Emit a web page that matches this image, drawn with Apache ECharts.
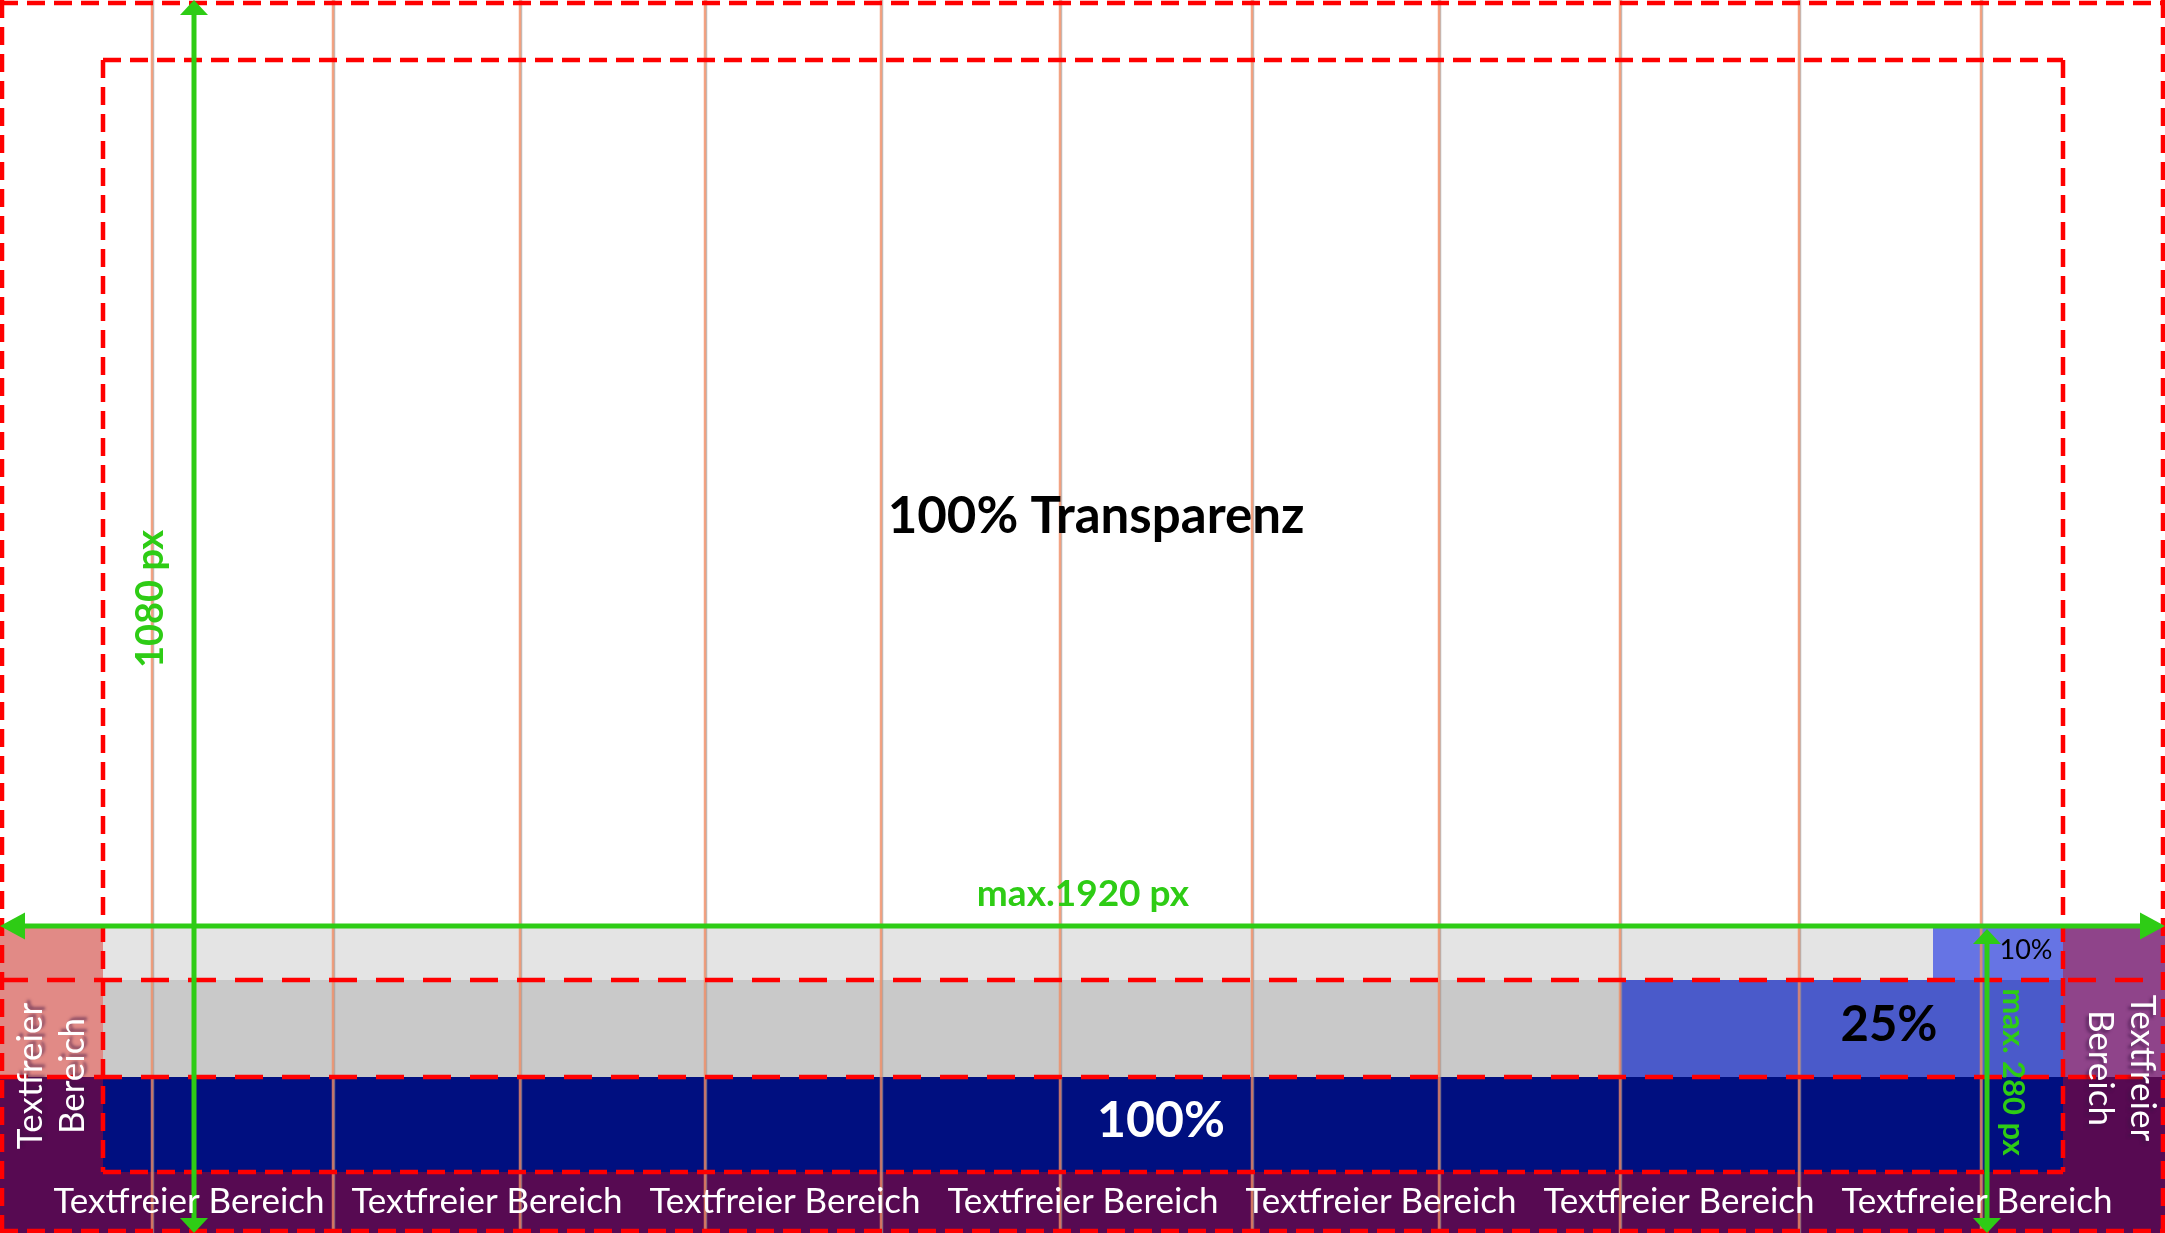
<!DOCTYPE html>
<html>
<head>
<meta charset="utf-8">
<script src="https://cdn.jsdelivr.net/npm/echarts@6/dist/echarts.min.js"></script>
<style>html,body{margin:0;padding:0;background:#fff}#c{width:2165px;height:1233px}</style>
</head>
<body>
<div id="c"></div>
<script>
// ===== Data (layout values in reference-pixel units) =====
const frameW = 2165;
const frameH = 1233;

// vertical column guide lines
const guideX = [152, 333, 520, 705, 881, 1060, 1252, 1439, 1620, 1799, 1981];

// filled regions: [x0, y0, x1, y1]
const regionBoxes = [
  [0, 1172, 2165, 1233],   // bottom text-free strip
  [0, 1077, 103, 1172],    // left lower
  [2063, 1077, 2165, 1172],// right lower
  [0, 927, 103, 1077],     // left upper
  [2063, 927, 2165, 1077], // right upper
  [103, 927, 1933, 980],   // 10% band, gray part
  [1933, 927, 2063, 980],  // 10% band, blue part
  [103, 980, 1620, 1077],  // 25% band, gray part
  [1620, 980, 2063, 1077], // 25% band, blue part
  [103, 1077, 2063, 1172]  // 100% band
];
const regionKinds = ['purpleDark', 'purpleDark', 'purpleDark', 'pink', 'purpleMid',
  'gray1', 'blue10', 'gray2', 'blue25', 'navy'];

// red dashed frame lines: [x0, y0, x1, y1]
const dashLines = [
  [0, 3, 2165, 3], [0, 1231, 2165, 1231], [2, 0, 2, 1233], [2163, 0, 2163, 1233],
  [103, 60, 2063, 60], [103, 60, 103, 1172], [2063, 60, 2063, 1172], [103, 1172, 2063, 1172],
  [0, 980, 2165, 980], [0, 1077, 2165, 1077]
];
const dashKinds = ['fine', 'fine', 'fine', 'fine', 'fine', 'fine', 'fine', 'fine', 'coarse', 'coarse'];

// green dimension arrows: [x0, y0, x1, y1]
const dimArrows = [
  [0, 926, 2165, 926],
  [194, 0, 194, 1233],
  [1987, 929, 1987, 1233]
];
const dimArrowKinds = ['long', 'short', 'short'];

// text labels
const labelTexts = ['100% Transparenz', 'max.1920 px', '1080 px', 'max. 280 px',
  '10%', '25%', '100%', 'Textfreier\nBereich', 'Textfreier\nBereich'];
const labelAnchors = [
  [1096, 517], [1083, 894], [151, 599], [2013, 1072],
  [2026, 950], [1889, 1025], [1161, 1121], [52, 1076], [2121, 1068]
];
const labelKinds = ['title', 'dimH', 'dimV1080', 'dimV280', 'small', 'mid', 'big', 'sideL', 'sideR'];

// bottom "text-free" strip categories
const bottomCategories = ['Textfreier Bereich', 'Textfreier Bereich', 'Textfreier Bereich',
  'Textfreier Bereich', 'Textfreier Bereich', 'Textfreier Bereich', 'Textfreier Bereich'];

// ===== Styles =====
const palette = {
  purpleDark: '#570a52', purpleMid: '#8f448a', pink: '#e18a86',
  gray1: '#e4e4e4', gray2: '#c9c9c9', blue10: '#6674e4', blue25: '#4a5aca', navy: '#000f80'
};
const dashStyles = { fine: [18, 9], coarse: [28, 19] };
const arrowHeads = { long: [25, 27], short: [15, 28] };
const GREEN = '#2ecc15';
const FONT = 'Lato, "Noto Sans", sans-serif';
const textStyles = {
  title:    { font: 'bold 51px ' + FONT, fill: '#000000', rot: 0 },
  dimH:     { font: 'bold 37px ' + FONT, fill: GREEN, rot: 0 },
  dimV1080: { font: 'bold 38px ' + FONT, fill: GREEN, rot: Math.PI / 2 },
  dimV280:  { font: 'bold 31px ' + FONT, fill: GREEN, rot: -Math.PI / 2 },
  small:    { font: '27px ' + FONT, fill: '#000000', rot: 0 },
  mid:      { font: 'bold 49px ' + FONT, fill: '#000000', rot: 0 },
  big:      { font: 'bold 50px ' + FONT, fill: '#ffffff', rot: 0 },
  sideL:    { font: '35px ' + FONT, fill: '#ffffff', rot: Math.PI / 2, shadow: [3, -3] },
  sideR:    { font: '35px ' + FONT, fill: '#ffffff', rot: -Math.PI / 2, shadow: [-3, 3] }
};

// ===== Chart =====
const chart = echarts.init(document.getElementById('c'), null, { renderer: 'canvas' });

function pt(api, x, y) { return api.coord([x, y]); }

function renderRegion(params, api) {
  const a = pt(api, api.value(0), api.value(1));
  const b = pt(api, api.value(2), api.value(3));
  return {
    type: 'rect',
    shape: { x: Math.min(a[0], b[0]), y: Math.min(a[1], b[1]), width: Math.abs(b[0] - a[0]), height: Math.abs(b[1] - a[1]) },
    style: { fill: palette[regionKinds[params.dataIndex]] }
  };
}

function renderGuide(params, api) {
  const a = pt(api, api.value(0), 0);
  const b = pt(api, api.value(0), frameH);
  return {
    type: 'group',
    children: [
      { type: 'line', shape: { x1: a[0] + 1.5, y1: a[1], x2: b[0] + 1.5, y2: b[1] }, style: { stroke: 'rgba(150,150,150,0.6)', lineWidth: 1.5 } },
      { type: 'line', shape: { x1: a[0], y1: a[1], x2: b[0], y2: b[1] }, style: { stroke: 'rgba(240,140,100,0.8)', lineWidth: 2.5 } }
    ]
  };
}

function renderDash(params, api) {
  const a = pt(api, api.value(0), api.value(1));
  const b = pt(api, api.value(2), api.value(3));
  return {
    type: 'line',
    shape: { x1: a[0], y1: a[1], x2: b[0], y2: b[1] },
    style: { stroke: '#ff0000', lineWidth: 4.5, lineDash: dashStyles[dashKinds[params.dataIndex]] }
  };
}

function renderArrow(params, api) {
  const a = pt(api, api.value(0), api.value(1));
  const b = pt(api, api.value(2), api.value(3));
  const hs = arrowHeads[dimArrowKinds[params.dataIndex]];
  const len = hs[0], half = hs[1] / 2;
  const dx = b[0] - a[0], dy = b[1] - a[1];
  const L = Math.sqrt(dx * dx + dy * dy);
  const ux = dx / L, uy = dy / L, nx = -uy, ny = ux;
  function head(tip, dir) {
    const bx = tip[0] - dir * ux * len, by = tip[1] - dir * uy * len;
    return { type: 'polygon', shape: { points: [[tip[0], tip[1]], [bx + nx * half, by + ny * half], [bx - nx * half, by - ny * half]] }, style: { fill: GREEN } };
  }
  return {
    type: 'group',
    children: [
      { type: 'line', shape: { x1: a[0] + ux * len * 0.5, y1: a[1] + uy * len * 0.5, x2: b[0] - ux * len * 0.5, y2: b[1] - uy * len * 0.5 }, style: { stroke: GREEN, lineWidth: 5 } },
      head(a, -1),
      head(b, 1)
    ]
  };
}

function renderLabel(params, api) {
  const i = params.dataIndex;
  const p = pt(api, api.value(0), api.value(1));
  const st = textStyles[labelKinds[i]];
  const style = {
    text: labelTexts[i], font: st.font, fill: st.fill,
    align: 'center', verticalAlign: 'middle', lineHeight: 42
  };
  if (st.shadow) {
    style.textShadowColor = 'rgba(60,20,70,0.55)';
    style.textShadowBlur = 3;
    style.textShadowOffsetX = st.shadow[0];
    style.textShadowOffsetY = st.shadow[1];
  }
  return { type: 'text', x: p[0], y: p[1], rotation: st.rot, style: style };
}

const series = [
  { type: 'custom', name: 'regions', xAxisIndex: 0, yAxisIndex: 0, renderItem: renderRegion, data: regionBoxes, z: 1, silent: true },
  { type: 'custom', name: 'guides', xAxisIndex: 0, yAxisIndex: 0, renderItem: renderGuide, data: guideX.map(x => [x]), z: 2, silent: true },
  { type: 'custom', name: 'dashes', xAxisIndex: 0, yAxisIndex: 0, renderItem: renderDash, data: dashLines, z: 3, silent: true },
  { type: 'custom', name: 'labels', xAxisIndex: 0, yAxisIndex: 0, renderItem: renderLabel, data: labelAnchors, z: 4, silent: true },
  { type: 'custom', name: 'arrows', xAxisIndex: 0, yAxisIndex: 0, renderItem: renderArrow, data: dimArrows, z: 5, silent: true }
];

chart.setOption({
  backgroundColor: '#ffffff',
  animation: false,
  grid: [
    { left: 0, right: 0, top: 0, bottom: 0 },
    { left: 40, width: 2086, top: 1150, height: 30 }
  ],
  xAxis: [
    { type: 'value', gridIndex: 0, min: 0, max: frameW, show: false },
    {
      type: 'category', gridIndex: 1, data: bottomCategories, position: 'bottom', z: 6,
      axisLine: { show: false }, axisTick: { show: false }, splitLine: { show: false },
      axisLabel: { interval: 0, color: '#ffffff', fontFamily: 'Lato, "Noto Sans", sans-serif', fontSize: 35, margin: 22, verticalAlign: 'middle' }
    }
  ],
  yAxis: [
    { type: 'value', gridIndex: 0, min: 0, max: frameH, inverse: true, show: false },
    { type: 'value', gridIndex: 1, show: false }
  ],
  series: series
});
</script>
</body>
</html>
